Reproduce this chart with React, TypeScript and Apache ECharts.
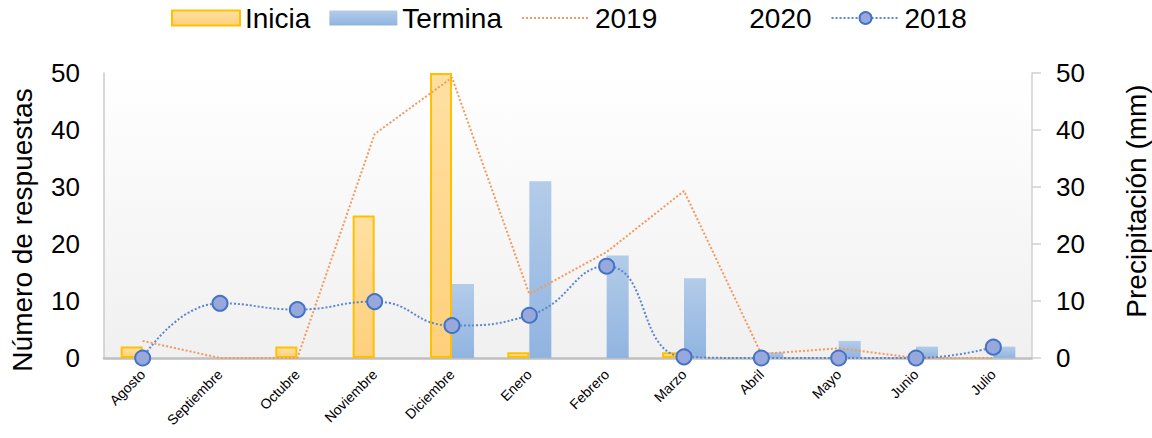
import React, { useEffect, useRef } from "react";
import * as echarts from "echarts";

const categories = ["Agosto", "Septiembre", "Octubre", "Noviembre", "Diciembre", "Enero", "Febrero", "Marzo", "Abril", "Mayo", "Junio", "Julio"];
const inicia = [2, 0, 2, 25, 50, 1, 0, 1, 0, 0, 0, 0];
const termina = [0, 0, 0, 0, 13, 31, 18, 14, 1, 3, 2, 2];
const precip2019 = [3, 0, 0, 39.3, 49.2, 11.2, 18.6, 29.3, 0.7, 1.7, 0, 0];
const precip2020: number[] = [];
const precip2018 = [0, 9.6, 8.5, 9.9, 5.7, 7.5, 16.1, 0.2, 0, 0, 0, 1.9];
const yTicks = { min: 0, max: 50, interval: 10 };

const FONT = "'Liberation Sans', Arial, sans-serif";

const hideZero = (arr: number[]) => arr.map((v) => (v === 0 ? null : v));

export default function App() {
  const ref = useRef<HTMLDivElement>(null);
  useEffect(() => {
    document.body.style.margin = "0";
    const chart = echarts.init(ref.current!, null, { renderer: "svg" });
    const gradInicia = new echarts.graphic.LinearGradient(0, 0, 0, 1, [
      { offset: 0, color: "#ffe0a2" },
      { offset: 1, color: "#fdd07c" },
    ]);
    const gradTermina = new echarts.graphic.LinearGradient(0, 0, 0, 1, [
      { offset: 0, color: "#b3cce9" },
      { offset: 1, color: "#90b4e0" },
    ]);
    const yAxisBase = {
      type: "value",
      min: yTicks.min,
      max: yTicks.max,
      interval: yTicks.interval,
      splitLine: { show: false },
      axisLabel: { fontSize: 26, color: "#000", fontFamily: FONT, margin: 24 },
    };
    chart.setOption({
      animation: false,
      textStyle: { fontFamily: FONT },
      legend: {
        left: 171,
        top: 4,
        itemWidth: 68,
        itemHeight: 15,
        itemGap: 19,
        padding: 0,
        textStyle: { fontSize: 28, color: "#000", fontFamily: FONT },
        data: [
          { name: "Inicia", icon: "rect" },
          { name: "Termina", icon: "rect" },
          { name: "2019", itemStyle: { opacity: 0 } },
          { name: "2020" },
          { name: "2018" },
        ],
      },
      grid: {
        left: 104,
        right: 120,
        top: 73,
        bottom: 80,
        show: true,
        borderWidth: 0,
        backgroundColor: new echarts.graphic.LinearGradient(0, 0, 0, 1, [
          { offset: 0, color: "#ffffff" },
          { offset: 1, color: "#f0f0f0" },
        ]),
      },
      xAxis: {
        type: "category",
        data: categories,
        axisTick: { show: false },
        axisLine: { lineStyle: { color: "#bfbfbf", width: 2.5 } },
        axisLabel: { rotate: 45, fontSize: 14, color: "#000", interval: 0, margin: 14, fontFamily: FONT },
      },
      yAxis: [
        {
          ...yAxisBase,
          axisLine: { show: true, lineStyle: { color: "#cbcbcb", width: 1.5 } },
          axisTick: { show: false },
        },
        {
          ...yAxisBase,
          position: "right",
          axisLine: { show: true, lineStyle: { color: "#d0d0d0", width: 1.5 } },
          axisTick: { show: true, length: 9, lineStyle: { color: "#d0d0d0", width: 1.5 } },
        },
      ],
      graphic: [
        {
          type: "text",
          x: 22,
          y: 230,
          rotation: Math.PI / 2,
          style: { text: "Número de respuestas", fontSize: 28, fill: "#000", fontFamily: FONT, align: "center", verticalAlign: "middle" },
        },
        {
          type: "text",
          x: 1136,
          y: 201,
          rotation: Math.PI / 2,
          style: { text: "Precipitación (mm)", fontSize: 28, fill: "#000", fontFamily: FONT, align: "center", verticalAlign: "middle" },
        },
      ],
      series: [
        {
          name: "Inicia",
          type: "bar",
          data: hideZero(inicia),
          barWidth: 22,
          barGap: "0%",
          itemStyle: { color: gradInicia, borderColor: "#ffc000", borderWidth: 2 },
          z: 2,
        },
        {
          name: "Termina",
          type: "bar",
          data: hideZero(termina),
          barWidth: 22,
          barGap: "0%",
          itemStyle: { color: gradTermina },
          z: 2,
        },
        {
          name: "2019",
          type: "line",
          yAxisIndex: 1,
          data: precip2019,
          symbol: "none",
          itemStyle: { color: "#f29a5e" },
          lineStyle: { color: "#f29a5e", width: 2, type: "dotted" },
          z: 3,
        },
        {
          name: "2020",
          type: "line",
          yAxisIndex: 1,
          data: precip2020,
          symbol: "none",
          itemStyle: { color: "rgba(0,0,0,0)" },
          lineStyle: { color: "rgba(0,0,0,0)", width: 0 },
        },
        {
          name: "2018",
          type: "line",
          yAxisIndex: 1,
          data: precip2018,
          smooth: true,
          symbol: "circle",
          symbolSize: 15,
          itemStyle: { color: "#97a8dd", borderColor: "#4472c4", borderWidth: 2 },
          lineStyle: { color: "#5b85d0", width: 2, type: "dotted" },
          z: 4,
        },
      ],
    });
    return () => chart.dispose();
  }, []);
  return <div ref={ref} style={{ width: 1152, height: 438 }} />;
}
